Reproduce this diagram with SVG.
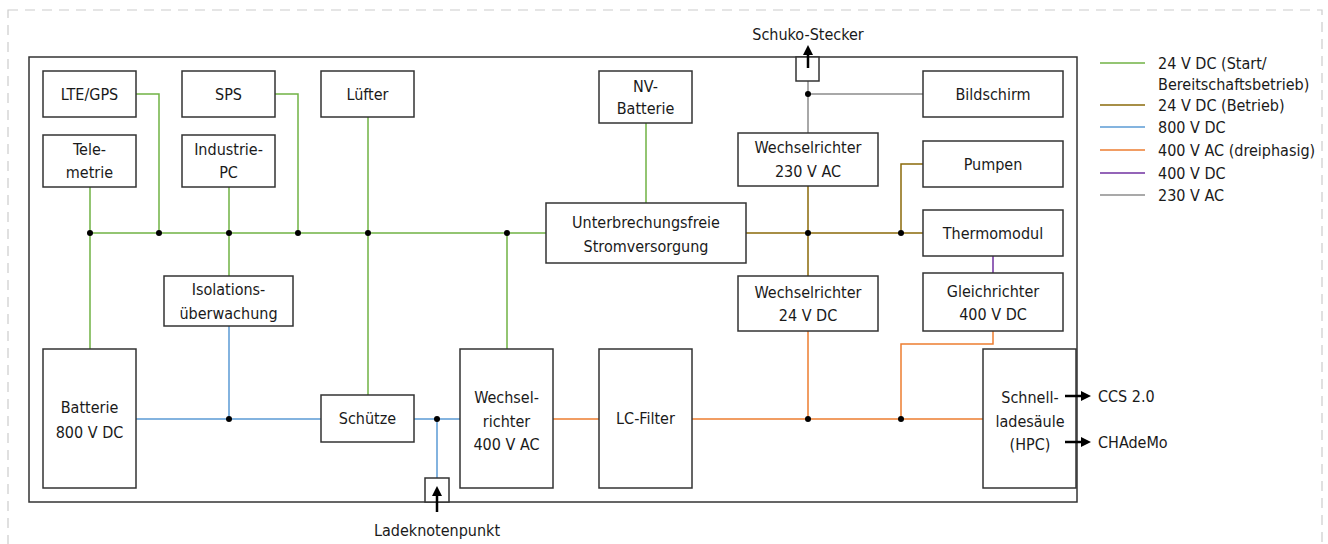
<svg xmlns="http://www.w3.org/2000/svg" width="1328" height="544" viewBox="0 0 1328 544">
<defs>
<style>
text{font-family:"DejaVu Sans Condensed","Liberation Sans",sans-serif;font-size:16px;fill:#1a1a1a;dominant-baseline:central}
.c{text-anchor:middle}
.box{fill:#fff;stroke:#333;stroke-width:1.5}
.w{fill:none;stroke-width:1.5}
.g{stroke:#70b244}.o{stroke:#8a6a0a}.b{stroke:#5b9bd5}.r{stroke:#ed7d31}.p{stroke:#7030a0}.y{stroke:#8c8c8c}
.dot{fill:#000}
.arr{fill:none;stroke:#000;stroke-width:2.5}
</style>
<marker id="ah" viewBox="0 0 10 10" refX="5" refY="5" markerWidth="4" markerHeight="4" orient="auto"><path d="M0,0L10,5L0,10z" fill="#000"/></marker>
</defs>
<rect x="8" y="10" width="1314" height="560" fill="none" stroke="#ccc" stroke-width="1.2" stroke-dasharray="10 7"/>
<rect x="29" y="57" width="1048" height="445" fill="none" stroke="#333" stroke-width="1.5"/>

<g id="connectors">
<path class="w g" d="M136,94H159V233M275,94H298V233M90,187V349M229,187V276M368,117V395M90,233H546M507,233V349M646,123V203"/>
<path class="w o" d="M746,233H923M808,186V276M923,164H901V233"/>
<path class="w y" d="M808,133V81M808,94H923"/>
<path class="w p" d="M993,256V273"/>
<path class="w b" d="M136,419H321M229,326V419M414,419H460M437,419V478"/>
<path class="w r" d="M553,419H599M692,419H983M808,331V419M993,331V344H901V419"/>
<g class="dot">
<circle cx="90" cy="233" r="3"/><circle cx="159" cy="233" r="3"/><circle cx="229" cy="233" r="3"/><circle cx="298" cy="233" r="3"/><circle cx="368" cy="233" r="3"/><circle cx="507" cy="233" r="3"/><circle cx="808" cy="233" r="3"/><circle cx="901" cy="233" r="3"/><circle cx="808" cy="94" r="3"/><circle cx="229" cy="419" r="3"/><circle cx="437" cy="419" r="3"/><circle cx="808" cy="419" r="3"/><circle cx="901" cy="419" r="3"/>
</g>
</g>

<g id="lte"><rect class="box" x="43" y="71" width="93" height="46"/><text class="c" x="89.5" y="94">LTE/GPS</text></g>
<g id="telemetrie"><rect class="box" x="43" y="135" width="93" height="52"/><text class="c" x="89.5" y="149">Tele-</text><text class="c" x="89.5" y="172">metrie</text></g>
<g id="sps"><rect class="box" x="182" y="71" width="93" height="46"/><text class="c" x="228.5" y="94">SPS</text></g>
<g id="ipc"><rect class="box" x="182" y="135" width="93" height="52"/><text class="c" x="228.5" y="149">Industrie-</text><text class="c" x="228.5" y="172">PC</text></g>
<g id="luefter"><rect class="box" x="321" y="71" width="93" height="46"/><text class="c" x="367.5" y="94">Lüfter</text></g>
<g id="nvbatt"><rect class="box" x="599" y="71" width="93" height="52"/><text class="c" x="645.5" y="86">NV-</text><text class="c" x="645.5" y="108">Batterie</text></g>
<g id="usv"><rect class="box" x="546" y="203" width="200" height="60"/><text class="c" x="646" y="222">Unterbrechungsfreie</text><text class="c" x="646" y="246">Stromversorgung</text></g>
<g id="wr230"><rect class="box" x="738" y="133" width="140" height="53"/><text class="c" x="808" y="147">Wechselrichter</text><text class="c" x="808" y="171">230 V AC</text></g>
<g id="wr24"><rect class="box" x="738" y="276" width="140" height="55"/><text class="c" x="808" y="292">Wechselrichter</text><text class="c" x="808" y="315">24 V DC</text></g>
<g id="bildschirm"><rect class="box" x="923" y="71" width="140" height="46"/><text class="c" x="993" y="94">Bildschirm</text></g>
<g id="pumpen"><rect class="box" x="923" y="141" width="140" height="46"/><text class="c" x="993" y="164">Pumpen</text></g>
<g id="thermo"><rect class="box" x="923" y="210" width="140" height="46"/><text class="c" x="993" y="233">Thermomodul</text></g>
<g id="gleich"><rect class="box" x="923" y="273" width="140" height="58"/><text class="c" x="993" y="291">Gleichrichter</text><text class="c" x="993" y="314">400 V DC</text></g>
<g id="iso"><rect class="box" x="164" y="276" width="129" height="50"/><text class="c" x="228.5" y="289">Isolations-</text><text class="c" x="228.5" y="313">überwachung</text></g>
<g id="batterie"><rect class="box" x="43" y="349" width="93" height="139"/><text class="c" x="89.5" y="407">Batterie</text><text class="c" x="89.5" y="432">800 V DC</text></g>
<g id="schuetze"><rect class="box" x="321" y="395" width="93" height="47"/><text class="c" x="367.5" y="418">Schütze</text></g>
<g id="wr400"><rect class="box" x="460" y="349" width="93" height="139"/><text class="c" x="506.5" y="397">Wechsel-</text><text class="c" x="506.5" y="421">richter</text><text class="c" x="506.5" y="444">400 V AC</text></g>
<g id="lc"><rect class="box" x="599" y="349" width="93" height="139"/><text class="c" x="645.5" y="418">LC-Filter</text></g>
<g id="hpc"><rect class="box" x="983" y="349" width="93" height="139"/><text class="c" x="1030" y="397">Schnell-</text><text class="c" x="1030" y="421">ladesäule</text><text class="c" x="1030" y="444">(HPC)</text></g>

<g id="schuko"><rect class="box" x="796" y="57" width="23" height="24"/><path class="arr" d="M808,68V50" marker-end="url(#ah)"/><text class="c" x="808" y="34">Schuko-Stecker</text></g>
<g id="ladeknoten"><rect class="box" x="425" y="478" width="24" height="24"/><path class="arr" d="M437,512V491" marker-end="url(#ah)"/><text class="c" x="437" y="530">Ladeknotenpunkt</text></g>
<g id="ccs"><path class="arr" d="M1065,396H1086" marker-end="url(#ah)"/><text x="1098" y="396">CCS 2.0</text></g>
<g id="chademo"><path class="arr" d="M1065,442H1086" marker-end="url(#ah)"/><text x="1098" y="442">CHAdeMo</text></g>

<g id="legend">
<path class="w g" d="M1100,63H1145"/><text x="1158" y="63">24 V DC (Start/</text><text x="1158" y="84">Bereitschaftsbetrieb)</text>
<path class="w o" d="M1100,105H1145"/><text x="1158" y="105">24 V DC (Betrieb)</text>
<path class="w b" d="M1100,127H1145"/><text x="1158" y="127">800 V DC</text>
<path class="w r" d="M1100,150H1145"/><text x="1158" y="150">400 V AC (dreiphasig)</text>
<path class="w p" d="M1100,173H1145"/><text x="1158" y="173">400 V DC</text>
<path class="w y" d="M1100,195H1145"/><text x="1158" y="195">230 V AC</text>
</g>
</svg>
